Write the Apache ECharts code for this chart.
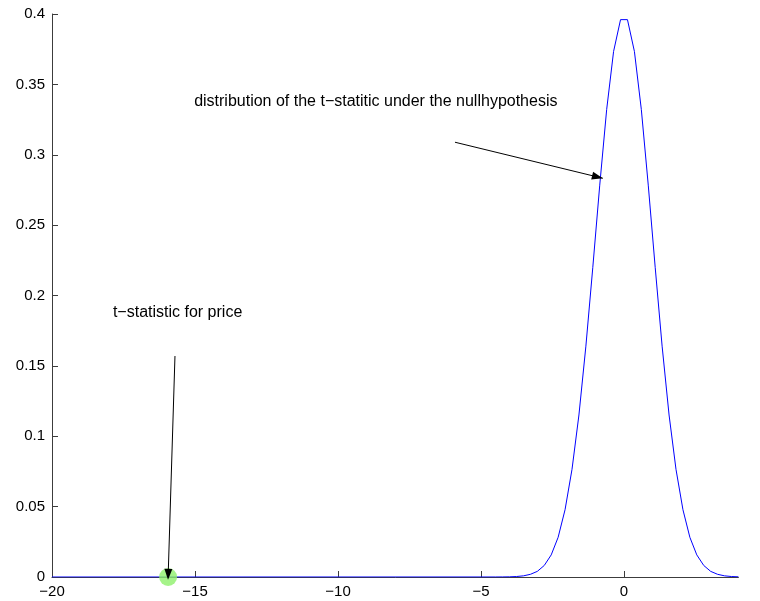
<!DOCTYPE html>
<html>
<head>
<meta charset="utf-8">
<script src="https://cdn.jsdelivr.net/npm/echarts@6/dist/echarts.min.js"></script>
<style>
  html, body { margin: 0; padding: 0; background: #fff; }
  #chart { width: 760px; height: 601px; }
</style>
</head>
<body>
<div id="chart"></div>
<script>
// Density of the t-statistic under the null hypothesis (sampled points)
const curveX = [-20, -4.485, -4.242, -4.000, -3.758, -3.515, -3.273, -3.030, -2.788, -2.545,
  -2.303, -2.061, -1.818, -1.576, -1.333, -1.091, -0.848, -0.606, -0.364, -0.121,
  0.121, 0.364, 0.606, 0.848, 1.091, 1.333, 1.576, 1.818, 2.061, 2.303,
  2.545, 2.788, 3.030, 3.273, 3.515, 3.758, 4.000];
const curveY = [0, 0.00002, 0.00005, 0.00013, 0.00034, 0.00083, 0.0019, 0.0040, 0.0082, 0.0157,
  0.0282, 0.0478, 0.0765, 0.1151, 0.1640, 0.2200, 0.2784, 0.3321, 0.3734, 0.3960,
  0.3960, 0.3734, 0.3321, 0.2784, 0.2200, 0.1640, 0.1151, 0.0765, 0.0478, 0.0282,
  0.0157, 0.0082, 0.0040, 0.0019, 0.00083, 0.00034, 0.00013];

// Observed t-statistic for price
const priceStat = [-15.94, 0];

// Tick values
const xTicks = [-20, -15, -10, -5, 0];
const yTicks = [0, 0.05, 0.1, 0.15, 0.2, 0.25, 0.3, 0.35, 0.4];

// Annotation texts and their anchors (data coordinates)
const nullLabel = 'distribution of the t\u2212statitic under the nullhypothesis';
const priceLabel = 't\u2212statistic for price';
const nullLabelAt = [-15.03, 0.338];
const priceLabelAt = [-17.87, 0.1876];
const nullArrow = [[-5.91, 0.3089], [-0.74, 0.2833]];
const priceArrow = [[-15.70, 0.157], [-15.94, 0]];

const FONT = "'Liberation Sans', Arial, Helvetica, sans-serif";
const fmt = v => String(+(+v).toFixed(2)).replace('-', '\u2212');

const chart = echarts.init(document.getElementById('chart'), null, { renderer: 'canvas' });

const lineCol = '#3c3c3c';
const tickStyle = { show: true, inside: true, length: 6, lineStyle: { color: lineCol, width: 1 } };

// arrow head end point; shift moves the triangle back along the line
const arrowEnd = (c, shift) => ({ coord: c, symbolOffset: [0, shift] });

chart.setOption({
  animation: false,
  backgroundColor: '#fff',
  grid: { left: 52, right: 21.6, top: 14, bottom: 24, containLabel: false },
  xAxis: {
    type: 'value', min: -20, max: 4, interval: 5,
    axisLine: { show: true, onZero: false, lineStyle: { color: lineCol, width: 1 } },
    axisTick: Object.assign({ customValues: xTicks }, tickStyle),
    splitLine: { show: false },
    axisLabel: { customValues: xTicks, formatter: fmt, color: '#000', fontSize: 15, fontFamily: FONT, margin: 7 }
  },
  yAxis: {
    type: 'value', min: 0, max: 0.4, interval: 0.05,
    axisLine: { show: true, onZero: false, lineStyle: { color: lineCol, width: 1 } },
    axisTick: Object.assign({ customValues: yTicks }, tickStyle),
    splitLine: { show: false },
    axisLabel: { customValues: yTicks, formatter: fmt, color: '#000', fontSize: 15, fontFamily: FONT, margin: 7 }
  },
  series: [
    {
      name: 'null distribution',
      type: 'line',
      data: curveX.map((x, i) => [x, curveY[i]]),
      symbol: 'none',
      lineStyle: { color: '#0000ff', width: 1 },
      z: 3
    },
    {
      name: 'price',
      type: 'scatter',
      data: [priceStat],
      symbol: 'circle',
      symbolSize: 18,
      itemStyle: { color: '#8ef06c' },
      clip: false,
      z: 4,
      markLine: {
        silent: true,
        symbol: ['none', 'triangle'],
        symbolSize: [8, 11],
        label: { show: false },
        lineStyle: { color: '#000', width: 1, type: 'solid' },
        itemStyle: { color: '#000' },
        data: [
          [{ coord: nullArrow[0] }, arrowEnd(nullArrow[1], '50%')],
          [{ coord: priceArrow[0] }, arrowEnd(priceArrow[1], '25%')]
        ],
        z: 5
      },
      markPoint: {
        silent: true,
        symbol: 'circle',
        symbolSize: 0,
        label: { show: true, position: 'right', distance: 0, color: '#000', fontSize: 16, fontFamily: FONT },
        data: [
          { coord: nullLabelAt, label: { formatter: nullLabel } },
          { coord: priceLabelAt, label: { formatter: priceLabel } }
        ]
      }
    }
  ]
});
</script>
</body>
</html>
